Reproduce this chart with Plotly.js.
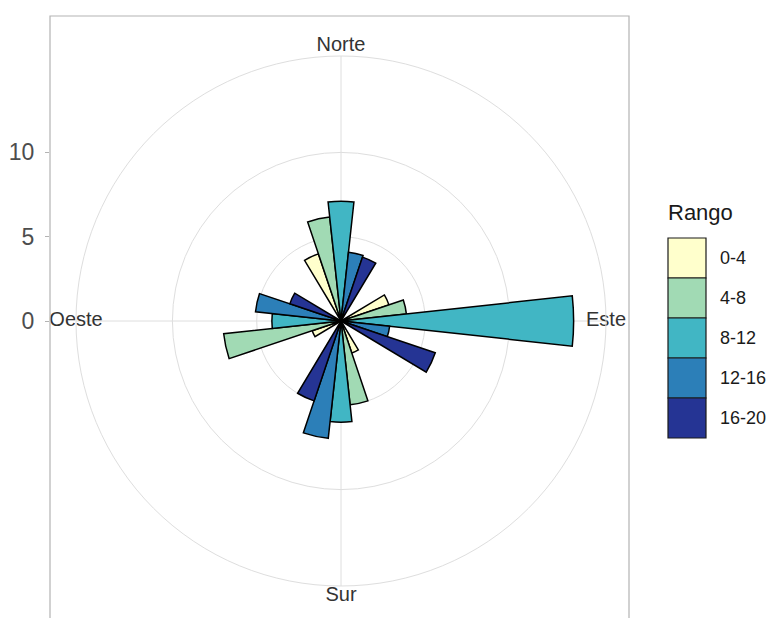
<!DOCTYPE html>
<html>
<head>
<meta charset="utf-8">
<script src="https://cdn.plot.ly/plotly-3.0.1.min.js"></script>
<style>
  html, body { margin: 0; padding: 0; background: #ffffff; }
  #rosa { width: 777px; height: 618px; }
</style>
</head>
<body>
<div id="rosa"></div>
<script>
// Direcciones del viento (grados, 0 = Norte, sentido horario)
const direcciones = [0, 90, 180, 270];
const nombresDireccion = ['Norte', 'Este', 'Sur', 'Oeste'];

// Rangos de velocidad y su paleta (YlGnBu)
const rangos = ['0-4', '4-8', '8-12', '12-16', '16-20'];
const colores = ['#ffffcc', '#a1dab4', '#41b6c4', '#2c7fb8', '#253494'];

// Frecuencia por rango, en el orden N, E, S, O
const frec_0_4   = [4.2, 3.0, 2.0, 1.8];
const frec_4_8   = [6.2, 3.9, 5.0, 7.0];
const frec_8_12  = [7.1, 13.8, 6.0, 4.1];
const frec_12_16 = [4.1, 2.9, 7.0, 5.1];
const frec_16_20 = [4.0, 5.9, 5.0, 3.2];
const frecuencias = [frec_0_4, frec_4_8, frec_8_12, frec_12_16, frec_16_20];

// Marcas del eje radial
const marcasEje = [0, 5, 10];
const rejillaRadial = [5, 10];

// Geometría de la rosa
const rMax = 15.72;          // radio del círculo exterior
const anchoBarra = 12.4;     // grados por barra dentro de cada grupo
const W = 777, H = 618;
const cx = 341, cy = 321, radioPx = 265;
const panel = { x0: 50, x1: 629, y0: 16 };
// posición de cada nombre cardinal respecto al círculo exterior
const posicionEtiqueta = ['top center', 'middle center', 'bottom center', 'middle center'];

const fuente = 'Liberation Sans, Arial, Helvetica, sans-serif';

// Barras agrupadas (dodge) alrededor de cada dirección
const trazas = rangos.map((rango, k) => ({
  type: 'barpolar',
  name: rango,
  r: frecuencias[k],
  theta: direcciones.map(d => d + (k - (rangos.length - 1) / 2) * anchoBarra),
  width: direcciones.map(() => anchoBarra),
  marker: { color: colores[k], line: { color: '#000000', width: 1.5 } },
  showlegend: false,
  hoverinfo: 'r+theta+name'
}));

// Nombres de los puntos cardinales sobre el círculo exterior
trazas.push({
  type: 'scatterpolar',
  mode: 'text',
  r: direcciones.map(() => rMax),
  theta: direcciones,
  text: nombresDireccion,
  textposition: posicionEtiqueta,
  textfont: { family: fuente, size: 20, color: '#333333' },
  cliponaxis: false,
  showlegend: false,
  hoverinfo: 'skip'
});

// Traza vacía para mostrar el eje vertical de frecuencias
trazas.push({
  type: 'scatter', x: [], y: [], xaxis: 'x', yaxis: 'y',
  showlegend: false, hoverinfo: 'skip'
});

const domX = [(cx - radioPx) / W, (cx + radioPx) / W];
const domY = [(H - cy - radioPx) / H, (H - cy + radioPx) / H];

// Leyenda dibujada con rectángulos y textos
const leyenda = { x: 668, y: 238, ancho: 38, alto: 40 };
const formas = rangos.map((rango, k) => ({
  type: 'rect', xref: 'paper', yref: 'paper',
  x0: leyenda.x / W, x1: (leyenda.x + leyenda.ancho) / W,
  y0: (H - leyenda.y - (k + 1) * leyenda.alto) / H,
  y1: (H - leyenda.y - k * leyenda.alto) / H,
  fillcolor: colores[k],
  line: { color: '#1a1a1a', width: 1.2 }
}));
// Borde del panel
formas.push({
  type: 'rect', xref: 'paper', yref: 'paper',
  x0: panel.x0 / W, x1: panel.x1 / W,
  y0: -0.05, y1: (H - panel.y0) / H,
  line: { color: '#b3b3b3', width: 1.2 },
  fillcolor: 'rgba(0,0,0,0)', layer: 'above'
});

const anotaciones = rangos.map((rango, k) => ({
  xref: 'paper', yref: 'paper',
  x: (leyenda.x + leyenda.ancho + 12) / W,
  y: (H - leyenda.y - (k + 0.5) * leyenda.alto) / H,
  xanchor: 'left', yanchor: 'middle',
  text: rango, showarrow: false,
  font: { family: fuente, size: 18, color: '#1a1a1a' }
}));
anotaciones.push({
  xref: 'paper', yref: 'paper',
  x: 666 / W, y: (H - 213) / H,
  xanchor: 'left', yanchor: 'middle',
  text: 'Rango', showarrow: false,
  font: { family: fuente, size: 22, color: '#1a1a1a' }
});

const layout = {
  width: W, height: H,
  margin: { l: 0, r: 0, t: 0, b: 0 },
  paper_bgcolor: '#ffffff',
  plot_bgcolor: 'rgba(0,0,0,0)',
  font: { family: fuente },
  showlegend: false,
  polar: {
    domain: { x: domX, y: domY },
    bgcolor: '#ffffff',
    barmode: 'overlay',
    angularaxis: {
      rotation: 90,
      direction: 'clockwise',
      tickmode: 'array',
      tickvals: direcciones,
      showticklabels: false,
      ticks: '',
      showgrid: true,
      gridcolor: '#dedede',
      gridwidth: 1,
      showline: true,
      linecolor: '#dedede',
      linewidth: 1
    },
    radialaxis: {
      range: [0, rMax],
      tickmode: 'array',
      tickvals: rejillaRadial,
      showticklabels: false,
      ticks: '',
      showline: false,
      showgrid: true,
      gridcolor: '#dedede',
      gridwidth: 1
    }
  },
  xaxis: {
    domain: [panel.x0 / W, panel.x1 / W],
    range: [0, 1],
    visible: false,
    fixedrange: true
  },
  yaxis: {
    domain: domY,
    range: [-rMax, rMax],
    anchor: 'x',
    side: 'left',
    tickmode: 'array',
    tickvals: marcasEje,
    ticktext: marcasEje.map(String),
    ticks: 'outside',
    ticklen: 4,
    tickwidth: 1,
    tickcolor: '#b3b3b3',
    ticklabelstandoff: 6,
    tickfont: { family: fuente, size: 23, color: '#4d4d4d' },
    showgrid: false,
    zeroline: false,
    showline: false,
    fixedrange: true
  },
  shapes: formas,
  annotations: anotaciones
};

Plotly.newPlot('rosa', trazas, layout, { displayModeBar: false, staticPlot: true });
</script>
</body>
</html>
